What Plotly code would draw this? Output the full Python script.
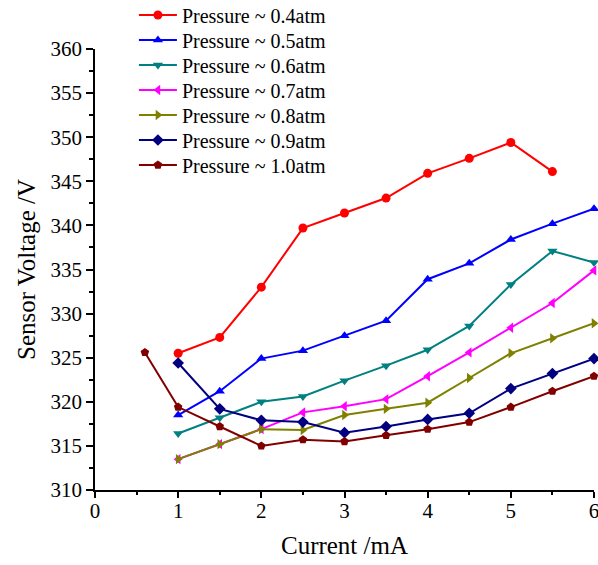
import plotly.graph_objects as go

x_main = [1, 1.5, 2, 2.5, 3, 3.5, 4, 4.5, 5, 5.5, 6]
x_04 = [1, 1.5, 2, 2.5, 3, 3.5, 4, 4.5, 5, 5.5]
x_10 = [0.6, 1, 1.5, 2, 2.5, 3, 3.5, 4, 4.5, 5, 5.5, 6]

p04 = [325.5, 327.3, 333.0, 339.7, 341.4, 343.1, 345.9, 347.6, 349.4, 346.1]
p05 = [318.5, 321.2, 324.9, 325.8, 327.5, 329.2, 333.9, 335.7, 338.4, 340.2, 341.9]
p06 = [316.4, 318.2, 320.0, 320.6, 322.4, 324.1, 325.9, 328.6, 333.3, 337.1, 335.8]
p07 = [313.5, 315.2, 316.9, 318.8, 319.5, 320.3, 322.9, 325.6, 328.4, 331.2, 334.9]
p08 = [313.5, 315.2, 316.9, 316.8, 318.5, 319.2, 319.9, 322.7, 325.5, 327.2, 328.9]
p09 = [324.4, 319.2, 317.9, 317.7, 316.5, 317.2, 318.0, 318.7, 321.5, 323.2, 324.9]
p10 = [325.6, 319.4, 317.2, 315.0, 315.7, 315.5, 316.2, 316.9, 317.7, 319.4, 321.2, 322.9]

names = ["Pressure ~ 0.4atm", "Pressure ~ 0.5atm", "Pressure ~ 0.6atm",
         "Pressure ~ 0.7atm", "Pressure ~ 0.8atm", "Pressure ~ 0.9atm",
         "Pressure ~ 1.0atm"]
colors = ["#FF0000", "#0000FF", "#008080", "#FF00FF", "#808000", "#000080", "#800000"]
symbols = ["circle", "triangle-up", "triangle-down", "triangle-left",
           "triangle-right", "diamond", "pentagon"]
xs = [x_04, x_main, x_main, x_main, x_main, x_main, x_10]
ys = [p04, p05, p06, p07, p08, p09, p10]

font_family = "Liberation Serif"
W, H = 598, 565
M_L, M_R, M_T, M_B = 95, 4, 49, 75
plot_h = H - M_T - M_B

fig = go.Figure()
legend_layouts = {}
for i, (n, c, s, xx, yy) in enumerate(zip(names, colors, symbols, xs, ys)):
    lid = "legend" if i == 0 else f"legend{i + 1}"
    fig.add_trace(go.Scatter(
        x=xx, y=yy, name=n, mode="lines+markers",
        line=dict(color=c, width=2),
        marker=dict(symbol=s, size=9, color=c),
        cliponaxis=False, legend=lid,
    ))
    # entry centre at 15 + 25*i px from top; box top sits 19.5 px above centre
    top_px = 15 + 25 * i - 19.5
    legend_layouts[lid] = dict(
        x=0.078, y=1 + (M_T - top_px) / plot_h, xanchor="left", yanchor="top",
        bgcolor="rgba(0,0,0,0)", font=dict(size=20, family=font_family, color="black"),
        itemwidth=38,
    )

fig.update_layout(
    width=W, height=H,
    margin=dict(l=M_L, r=M_R, t=M_T, b=M_B, autoexpand=False),
    plot_bgcolor="white", paper_bgcolor="white",
    font=dict(family=font_family, size=21, color="black"),
    showlegend=True,
    xaxis=dict(
        range=[0, 6], tickmode="linear", tick0=0, dtick=1,
        showline=True, linecolor="black", linewidth=1.5,
        ticks="outside", ticklen=6, tickcolor="black", tickwidth=1.5,
        minor=dict(ticks="outside", ticklen=3, dtick=0.5, tickcolor="black", tickwidth=1.5),
        showgrid=False, zeroline=False, ticklabeloverflow="allow",
        ticklabelstandoff=-5,
        title=dict(text="Current /mA", font=dict(size=25, family=font_family), standoff=15),
        tickfont=dict(size=21, family=font_family),
    ),
    yaxis=dict(
        range=[310, 360], tickmode="linear", tick0=310, dtick=5,
        showline=True, linecolor="black", linewidth=1.5,
        ticks="outside", ticklen=7, tickcolor="black", tickwidth=1.5,
        minor=dict(ticks="outside", ticklen=4, dtick=2.5, tickcolor="black", tickwidth=1.5),
        showgrid=False, zeroline=False,
        title=dict(text="Sensor Voltage /V", font=dict(size=25, family=font_family), standoff=8),
        tickfont=dict(size=21, family=font_family),
    ),
    **legend_layouts,
)

fig.write_html("out.html")
